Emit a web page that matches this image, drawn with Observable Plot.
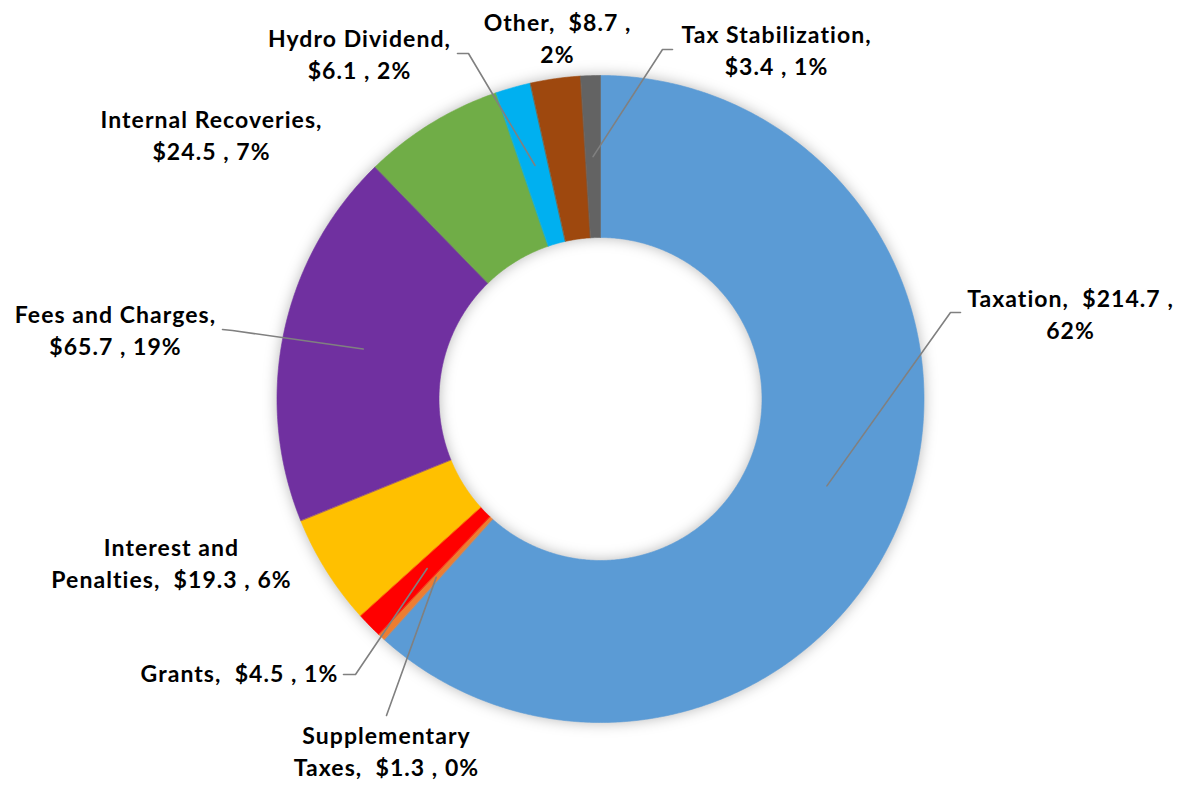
<!DOCTYPE html>
<html><head><meta charset="utf-8">
<script src="https://cdn.jsdelivr.net/npm/d3@7"></script>
<script src="https://cdn.jsdelivr.net/npm/@observablehq/plot@0.6"></script>
<style>
html,body{margin:0;padding:0;background:#fff;}
#chart svg{display:block;}
.slices{filter: drop-shadow(0 0 7px rgba(0,0,0,0.28));}
</style></head><body><div id="chart"></div>
<script>
// ---- data ----
const categories = ["Taxation","Supplementary Taxes","Grants","Interest and Penalties","Fees and Charges","Internal Recoveries","Hydro Dividend","Other","Tax Stabilization"];
const values = [214.7, 1.3, 4.5, 19.3, 65.7, 24.5, 6.1, 8.7, 3.4];
const percents = ["62%","0%","1%","6%","19%","7%","2%","2%","1%"];
const labelTexts = [
  "Taxation,  $214.7 ,\n62%",
  "Supplementary\nTaxes,  $1.3 , 0%",
  "Grants,  $4.5 , 1%",
  "Interest and\nPenalties,  $19.3 , 6%",
  "Fees and Charges,\n$65.7 , 19%",
  "Internal Recoveries,\n$24.5 , 7%",
  "Hydro Dividend,\n$6.1 , 2%",
  "Other,  $8.7 ,\n2%",
  "Tax Stabilization,\n$3.4 , 1%"
];
const colors = ["#5B9BD5","#ED7D31","#FF0000","#FFC000","#7030A0","#70AD47","#00B0F0","#9E480E","#636363"];

// ---- layout ----
const W = 1182, H = 785, CX = 600, CY = 398.5, R_OUT = 323.5, R_IN = 161.5, R_MID = (R_OUT + R_IN) / 2;
const labelPos = [[1070,312],[386,749],[239,671],[171,561],[115,328],[211,133],[359,52],[557,36],[776,48]];
const leaderStarts = [[[960,312],[950,312]], [[386,715]], [[343,674],[355,674]], null, [[222,329],[232,330]], null, [[457,53],[468,53]], null, [[672,49],[662,49]]];
const FONT = "Lato, 'Open Sans', sans-serif";
const FS = 23;

// letter spacing so that the reference label width (~222px for "Internal Recoveries,") is matched
const ctx = document.createElement("canvas").getContext("2d");
ctx.font = `bold ${FS}px Lato`;
const sample = "Internal Recoveries,";
const LS = Math.max(0, Math.min(2, (222 - ctx.measureText(sample).width) / sample.length));

// ---- geometry from data ----
const total = d3.sum(values);
let acc = 0;
const slices = categories.map((c, i) => {
  const a0 = acc / total * 2 * Math.PI; acc += values[i];
  const a1 = acc / total * 2 * Math.PI;
  return {cat: c, a0, a1, mid: (a0 + a1) / 2};
});
const polar = (r, a) => [r * Math.sin(a), -r * Math.cos(a)];
const polyPts = [];
for (const s of slices) {
  const n = Math.max(2, Math.ceil((s.a1 - s.a0) / (Math.PI / 360)));
  for (let k = 0; k <= n; k++) { const [x, y] = polar(R_OUT, s.a0 + (s.a1 - s.a0) * k / n); polyPts.push({cat: s.cat, x, y}); }
  for (let k = n; k >= 0; k--) { const [x, y] = polar(R_IN, s.a0 + (s.a1 - s.a0) * k / n); polyPts.push({cat: s.cat, x, y}); }
}
const labelData = categories.map((c, i) => ({cat: c, text: labelTexts[i], x: labelPos[i][0] - CX, y: labelPos[i][1] - CY}));
const leaderPts = [];
slices.forEach((s, i) => {
  if (!leaderStarts[i]) return;
  for (const [px, py] of leaderStarts[i]) leaderPts.push({cat: s.cat, x: px - CX, y: py - CY});
  const [ex, ey] = polar(R_MID, s.mid);
  leaderPts.push({cat: s.cat, x: ex, y: ey});
});

const chart = Plot.plot({
  width: W, height: H,
  margin: 0,
  x: {domain: [-CX, W - CX], range: [0, W], axis: null},
  y: {domain: [-CY, H - CY], range: [0, H], axis: null},
  color: {domain: categories, range: colors},
  style: {background: "#fff", fontFamily: FONT},
  marks: [
    Plot.line(polyPts, {x: "x", y: "y", z: "cat", fill: "cat", stroke: "cat", strokeWidth: 0.6, curve: "linear-closed", className: "slices"}),
    Plot.line(leaderPts, {x: "x", y: "y", z: "cat", stroke: "#808080", strokeWidth: 1.6}),
    Plot.text(labelData, {x: "x", y: "y", text: "text", fontSize: FS, fontWeight: "bold", fontFamily: FONT, lineHeight: 32 / FS, textAnchor: "middle", lineAnchor: "middle", fill: "#000", className: "labels"})
  ]
});
chart.querySelectorAll(".labels text").forEach(t => t.setAttribute("letter-spacing", LS.toFixed(2)));
document.getElementById("chart").appendChild(chart);
</script>
</body></html>
